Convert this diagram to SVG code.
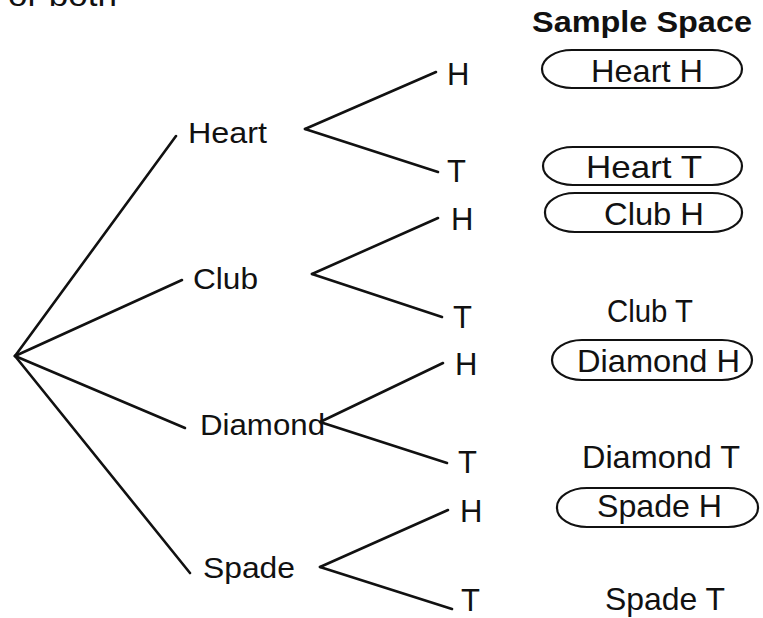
<svg xmlns="http://www.w3.org/2000/svg" width="763" height="618" viewBox="0 0 763 618">
  <style>
    text { font-family: "Liberation Sans", Arial, sans-serif; fill: #111; }
    .lbl { font-size: 30px; }
    .ht { font-size: 31px; }
    .ss { font-size: 32px; }
    .title { font-size: 29px; font-weight: bold; }
    .edge { stroke: #111; stroke-width: 2.6; fill: none; stroke-linecap: round; }
    .oval { stroke: #111; stroke-width: 2.2; fill: none; }
  </style>
  <rect width="763" height="618" fill="#ffffff"/>

  <!-- text continued from above, clipped at the top edge -->
  <text class="ss" x="8" y="6" textLength="109" lengthAdjust="spacingAndGlyphs">or both</text>

  <!-- connectors -->
  <g id="connectors">
    <line class="edge" x1="15" y1="356" x2="176" y2="136"/>
    <line class="edge" x1="15" y1="356" x2="182" y2="280"/>
    <line class="edge" x1="15" y1="356" x2="185" y2="428"/>
    <line class="edge" x1="15" y1="356" x2="190" y2="573"/>
    <line class="edge" x1="305" y1="129" x2="436" y2="72"/>
    <line class="edge" x1="305" y1="129" x2="438" y2="172"/>
    <line class="edge" x1="312" y1="274" x2="438" y2="218"/>
    <line class="edge" x1="312" y1="274" x2="442" y2="317"/>
    <line class="edge" x1="320" y1="422" x2="443" y2="363"/>
    <line class="edge" x1="320" y1="422" x2="447" y2="463"/>
    <line class="edge" x1="320" y1="567" x2="448" y2="510"/>
    <line class="edge" x1="320" y1="567" x2="452" y2="609"/>
  </g>

  <!-- suits -->
  <g id="heart"><text class="lbl" x="188" y="143" textLength="79" lengthAdjust="spacingAndGlyphs">Heart</text></g>
  <g id="club"><text class="lbl" x="193" y="289" textLength="65" lengthAdjust="spacingAndGlyphs">Club</text></g>
  <g id="diamond"><text class="lbl" x="200" y="435" textLength="125" lengthAdjust="spacingAndGlyphs">Diamond</text></g>
  <g id="spade"><text class="lbl" x="203" y="578" textLength="92" lengthAdjust="spacingAndGlyphs">Spade</text></g>

  <!-- coin outcomes -->
  <g id="heart-h"><text class="ht" x="447" y="85">H</text></g>
  <g id="heart-t"><text class="ht" x="447" y="182">T</text></g>
  <g id="club-h"><text class="ht" x="451" y="230">H</text></g>
  <g id="club-t"><text class="ht" x="453" y="328">T</text></g>
  <g id="diamond-h"><text class="ht" x="455" y="375">H</text></g>
  <g id="diamond-t"><text class="ht" x="458" y="473">T</text></g>
  <g id="spade-h"><text class="ht" x="460" y="522">H</text></g>
  <g id="spade-t"><text class="ht" x="461" y="611">T</text></g>

  <!-- sample space column -->
  <g id="sample-space-title"><text class="title" x="532" y="32" textLength="220" lengthAdjust="spacingAndGlyphs">Sample Space</text></g>

  <g id="ss-heart-h">
    <rect class="oval" x="542" y="50" width="200" height="38" rx="30" ry="19"/>
    <text class="ss" x="591" y="82" textLength="112" lengthAdjust="spacingAndGlyphs">Heart H</text>
  </g>
  <g id="ss-heart-t">
    <rect class="oval" x="543" y="147" width="199" height="38" rx="30" ry="19"/>
    <text class="ss" x="586" y="178" textLength="116" lengthAdjust="spacingAndGlyphs">Heart T</text>
  </g>
  <g id="ss-club-h">
    <rect class="oval" x="545" y="193" width="197" height="39" rx="30" ry="19"/>
    <text class="ss" x="604" y="225" textLength="100" lengthAdjust="spacingAndGlyphs">Club H</text>
  </g>
  <g id="ss-club-t">
    <text class="ss" x="607" y="322" textLength="86" lengthAdjust="spacingAndGlyphs">Club T</text>
  </g>
  <g id="ss-diamond-h">
    <rect class="oval" x="552" y="340" width="200" height="40" rx="30" ry="20"/>
    <text class="ss" x="577" y="372" textLength="163" lengthAdjust="spacingAndGlyphs">Diamond H</text>
  </g>
  <g id="ss-diamond-t">
    <text class="ss" x="582" y="468" textLength="158" lengthAdjust="spacingAndGlyphs">Diamond T</text>
  </g>
  <g id="ss-spade-h">
    <rect class="oval" x="557" y="488" width="201" height="39" rx="30" ry="19"/>
    <text class="ss" x="597" y="517" textLength="125" lengthAdjust="spacingAndGlyphs">Spade H</text>
  </g>
  <g id="ss-spade-t">
    <text class="ss" x="605" y="610" textLength="120" lengthAdjust="spacingAndGlyphs">Spade T</text>
  </g>
</svg>
